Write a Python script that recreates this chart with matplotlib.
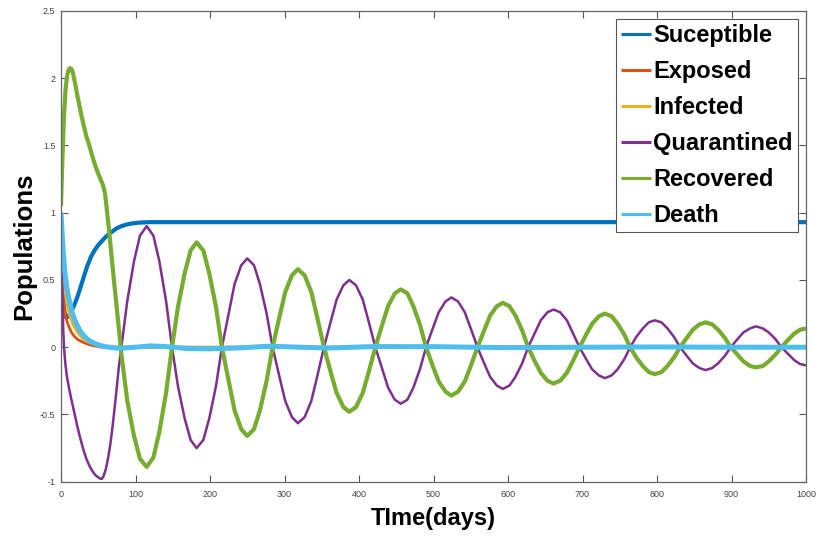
import numpy as np
import matplotlib
matplotlib.use("Agg")
import matplotlib.pyplot as plt
from matplotlib.ticker import FuncFormatter

plt.rcParams['font.family'] = ['Liberation Sans', 'DejaVu Sans']

# -------------------------------------------------------
# Data
# -------------------------------------------------------

t_sus = [0, 1, 2, 3, 4, 5, 7, 9, 12, 15, 19, 23, 27, 31, 35, 40, 45, 50, 55, 60,
         65, 70, 75, 81, 88, 95, 102, 110, 120, 135, 1000]
suceptible = [0.90, 0.70, 0.50, 0.37, 0.29, 0.25, 0.22, 0.225, 0.25, 0.28, 0.33, 0.39,
              0.46, 0.53, 0.60, 0.67, 0.72, 0.76, 0.79, 0.82, 0.845, 0.865, 0.885,
              0.90, 0.912, 0.92, 0.925, 0.928, 0.93, 0.93, 0.93]

t_exp = [0, 1, 2, 3, 5, 7, 10, 14, 18, 23, 30, 40, 55, 1000]
exposed = [1.0, 0.65, 0.45, 0.35, 0.26, 0.21, 0.16, 0.11, 0.08, 0.055, 0.035, 0.015,
           0.0, 0.0]

t_inf = [0, 1, 2, 4, 6, 9, 12, 16, 20, 25, 30, 36, 45, 55, 70, 1000]
infected = [1.0, 0.83, 0.70, 0.50, 0.39, 0.29, 0.23, 0.17, 0.13, 0.09, 0.06, 0.04,
            0.02, 0.008, 0.0, 0.0]

t_death = [0, 1, 2, 3, 5, 7, 9, 12, 15, 18, 22, 26, 30, 35, 40, 45, 50, 55, 60, 65,
           72, 80, 100, 120, 140, 170, 200, 240, 280, 320, 360, 420, 500, 600, 700,
           800, 900, 1000]
death = [1.0, 0.90, 0.80, 0.71, 0.57, 0.47, 0.40, 0.33, 0.26, 0.21, 0.16, 0.12, 0.09,
         0.062, 0.042, 0.028, 0.018, 0.01, 0.004, 0.0, -0.005, -0.008, 0.0, 0.01,
         0.005, -0.01, -0.012, -0.005, 0.008, 0.0, -0.006, 0.005, 0.004, -0.003, 0.0,
         0.002, 0.0, 0.0]

# early transient, before the oscillations settle in
t_quar_early = [0, 1, 2, 3, 4, 6, 8, 11, 14, 18, 22, 26, 30, 34, 38, 42, 46, 50, 53,
                55, 57, 60, 63, 66, 69, 72, 75, 78]
quar_early = [1.0, 0.62, 0.33, 0.13, 0.0, -0.13, -0.22, -0.31, -0.39, -0.49, -0.59,
              -0.68, -0.76, -0.83, -0.88, -0.92, -0.95, -0.968, -0.978, -0.978, -0.96,
              -0.91, -0.83, -0.73, -0.60, -0.45, -0.29, -0.13]

t_rec_early = [0, 2, 4, 6, 8, 10, 12, 14, 16, 19, 22, 26, 30, 34, 38, 42, 46, 50, 53,
               56, 59, 62, 65, 68, 71, 74, 77]
rec_early = [1.05, 1.42, 1.72, 1.91, 2.01, 2.06, 2.075, 2.07, 2.04, 1.96, 1.87, 1.76,
             1.66, 1.57, 1.50, 1.42, 1.35, 1.29, 1.25, 1.21, 1.15, 1.00, 0.84, 0.67,
             0.50, 0.34, 0.175]

# oscillating part, shared time grid
t_osc = [81, 89, 98, 106, 115, 124, 132, 141, 149,
         157, 166, 174, 182, 191, 199, 208, 216,
         225, 233, 242, 250, 259, 267, 276, 284,
         293, 301, 310, 318, 327, 336, 344, 353,
         362, 370, 379, 387, 396, 405, 413, 422,
         431, 439, 448, 456, 465, 473, 482, 490,
         499, 507, 516, 524, 533, 542, 550, 559,
         568, 576, 585, 593, 602, 610, 619, 627,
         636, 644, 653, 661, 670, 679, 687, 696,
         705, 713, 722, 730, 739, 747, 756, 764,
         772, 781, 789, 797, 806, 814, 823, 831,
         840, 848, 857, 865, 874, 882, 891, 899,
         908, 916, 925, 933, 942, 950, 959, 967,
         976, 984, 992, 1000]

quar_osc = [0.0, 0.345, 0.64, 0.83, 0.90, 0.83, 0.64, 0.345, 0.0,
            -0.29, -0.53, -0.69, -0.75, -0.69, -0.53, -0.29, 0.0,
            0.25, 0.47, 0.61, 0.66, 0.61, 0.47, 0.25, 0.0,
            -0.215, -0.40, -0.52, -0.565, -0.52, -0.40, -0.215, 0.0,
            0.19, 0.355, 0.46, 0.50, 0.46, 0.355, 0.19, 0.0,
            -0.16, -0.30, -0.39, -0.42, -0.39, -0.30, -0.16, 0.0,
            0.14, 0.26, 0.34, 0.37, 0.34, 0.26, 0.14, 0.0,
            -0.12, -0.22, -0.285, -0.31, -0.285, -0.22, -0.12, 0.0,
            0.105, 0.20, 0.26, 0.28, 0.26, 0.20, 0.105, 0.0,
            -0.09, -0.165, -0.21, -0.23, -0.21, -0.165, -0.09, 0.0,
            0.075, 0.14, 0.185, 0.20, 0.185, 0.14, 0.075, 0.0,
            -0.065, -0.12, -0.155, -0.17, -0.155, -0.12, -0.065, 0.0,
            0.06, 0.11, 0.14, 0.155, 0.14, 0.11, 0.06, 0.0,
            -0.05, -0.095, -0.125, -0.135]

rec_osc = [-0.05, -0.40, -0.66, -0.83, -0.89, -0.82, -0.63, -0.34, 0.0,
           0.30, 0.55, 0.72, 0.78, 0.72, 0.55, 0.30, 0.0,
           -0.25, -0.47, -0.61, -0.66, -0.61, -0.47, -0.25, 0.0,
           0.22, 0.41, 0.535, 0.58, 0.535, 0.41, 0.22, 0.0,
           -0.185, -0.34, -0.445, -0.48, -0.445, -0.34, -0.185, 0.0,
           0.165, 0.305, 0.40, 0.43, 0.40, 0.305, 0.165, 0.0,
           -0.14, -0.255, -0.33, -0.36, -0.33, -0.255, -0.14, 0.0,
           0.125, 0.235, 0.305, 0.33, 0.305, 0.235, 0.125, 0.0,
           -0.105, -0.19, -0.25, -0.27, -0.25, -0.19, -0.105, 0.0,
           0.095, 0.175, 0.23, 0.25, 0.23, 0.175, 0.095, 0.0,
           -0.075, -0.14, -0.185, -0.20, -0.185, -0.14, -0.075, 0.0,
           0.07, 0.13, 0.17, 0.185, 0.17, 0.13, 0.07, 0.0,
           -0.055, -0.105, -0.14, -0.15, -0.14, -0.105, -0.055, 0.0,
           0.055, 0.10, 0.13, 0.14]

labels = ["Suceptible", "Exposed", "Infected", "Quarantined", "Recovered", "Death"]
colors = ["#0072BD", "#D95319", "#EDB120", "#7E2F8E", "#77AC30", "#4DBEEE"]

x_ticks = list(range(0, 1001, 100))
y_ticks = [-1, -0.5, 0, 0.5, 1, 1.5, 2, 2.5]

# -------------------------------------------------------
# Plot
# -------------------------------------------------------

fig = plt.figure(figsize=(8.18, 5.41), dpi=100)
ax = fig.add_axes([61 / 818, 59.3 / 541, 745 / 818, 470.7 / 541])

series = [
    (t_sus, suceptible, 3.0),
    (t_exp, exposed, 2.0),
    (t_inf, infected, 2.0),
    (t_quar_early + t_osc, quar_early + quar_osc, 1.8),
    (t_rec_early + t_osc, rec_early + rec_osc, 3.0),
    (t_death, death, 3.6),
]

handles = []
for (t, y, lw), lab, col in zip(series, labels, colors):
    line, = ax.plot(t, y, color=col, linewidth=lw, label=lab,
                    solid_joinstyle="round", solid_capstyle="butt")
    handles.append(line)

ax.set_xlim(0, 1000)
ax.set_ylim(-1, 2.5)
ax.set_xticks(x_ticks)
ax.set_yticks(y_ticks)
ax.yaxis.set_major_formatter(FuncFormatter(lambda v, p: "%g" % v))

ax.tick_params(direction="in", length=5, width=0.8, color="#555555",
               labelsize=6.5, labelcolor="#444444", top=True, right=True)
ax.tick_params(axis="x", pad=6)
ax.tick_params(axis="y", pad=4)
for sp in ax.spines.values():
    sp.set_color("#666666")
    sp.set_linewidth(0.9)

ax.set_xlabel("TIme(days)", fontsize=17, fontweight="bold", labelpad=6)
ax.set_ylabel("Populations", fontsize=18.5, fontweight="bold", labelpad=3)

leg = ax.legend(handles=handles, loc="upper right",
                bbox_to_anchor=(0.9893, 0.983), borderaxespad=0,
                prop={"weight": "bold", "size": 17},
                handlelength=1.25, handletextpad=0.1, labelspacing=0.55,
                borderpad=0.22, fancybox=False, framealpha=1)
leg.get_frame().set_edgecolor("#555555")
leg.get_frame().set_linewidth(0.8)
for h in leg.get_lines():
    h.set_linewidth(2.2)

fig.savefig("out.png", dpi=100)
